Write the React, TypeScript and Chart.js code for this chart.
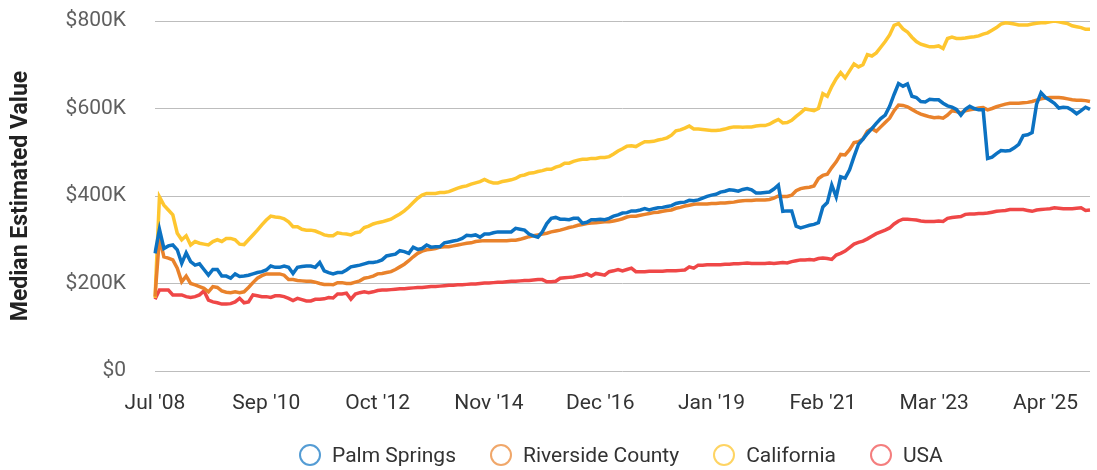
import React, { useEffect, useRef } from "react";
import { Chart, registerables } from "chart.js";

Chart.register(...registerables);

// Values in thousands of dollars, one point per period starting Jul '08
const seriesNames = ["Palm Springs", "Riverside County", "California", "USA"];
const seriesColors = ["#0c72c2", "#e9822b", "#fec62f", "#ef4747"];
const legendColors = ["rgba(12,114,194,0.7)", "rgba(233,130,43,0.7)", "rgba(254,198,47,0.75)", "rgba(239,71,71,0.7)"];

const palmSprings = [
  269, 324, 280, 286, 288, 277, 246, 270, 250, 242, 245, 232, 219, 232, 232, 217, 217, 212, 222, 216,
  217, 219, 222, 225, 227, 231, 240, 237, 237, 240, 237, 223, 237, 239, 240, 240, 237, 248, 229, 225,
  222, 225, 225, 231, 238, 240, 242, 245, 248, 248, 250, 254, 263, 265, 267, 275, 273, 269, 283, 278,
  280, 288, 283, 284, 284, 293, 295, 297, 299, 303, 310, 309, 311, 306, 313, 313, 316, 318, 318, 318,
  318, 326, 324, 322, 313, 309, 306, 318, 337, 349, 351, 347, 347, 346, 349, 349, 338, 340, 346, 346,
  347, 346, 349, 354, 357, 361, 362, 366, 366, 368, 371, 368, 371, 373, 374, 376, 378, 383, 385, 386,
  390, 389, 391, 395, 399, 402, 404, 409, 411, 414, 413, 411, 415, 417, 414, 407, 407, 408, 409, 416,
  425, 365, 366, 366, 331, 327, 330, 333, 335, 339, 375, 385, 425, 398, 444, 441, 460, 490, 518, 530,
  543, 554, 566, 577, 585, 605, 632, 657, 651, 656, 628, 625, 616, 615, 621, 620, 620, 612, 606, 603,
  598, 585, 598, 605, 600, 597, 597, 486, 489, 497, 504, 503, 504, 510, 518, 538, 540, 545, 610, 636,
  625, 619, 612, 601, 603, 602, 596, 588, 595, 603, 598,
];

const riversideCounty = [
  170, 305, 261, 258, 254, 235, 204, 217, 200, 197, 193, 189, 181, 193, 191, 183, 180, 179, 181, 179,
  181, 191, 202, 212, 218, 222, 222, 222, 222, 219, 209, 209, 207, 206, 205, 205, 203, 200, 198, 198,
  197, 202, 202, 200, 200, 203, 206, 212, 214, 217, 222, 223, 225, 227, 232, 238, 244, 252, 261, 269,
  274, 277, 278, 280, 283, 284, 284, 286, 288, 290, 292, 293, 296, 297, 298, 298, 298, 298, 298, 298,
  299, 299, 301, 304, 307, 309, 311, 313, 315, 318, 320, 322, 325, 328, 330, 333, 335, 337, 338, 339,
  340, 341, 341, 343, 345, 348, 352, 354, 354, 356, 358, 360, 362, 363, 365, 367, 368, 372, 374, 377,
  379, 381, 382, 382, 382, 383, 383, 384, 384, 385, 386, 388, 389, 390, 390, 391, 391, 391, 392, 395,
  400, 399, 399, 402, 412, 417, 419, 420, 423, 440, 447, 450, 465, 478, 495, 494, 506, 522, 524, 530,
  548, 554, 548, 558, 568, 578, 595, 608, 607, 604, 598, 592, 587, 584, 581, 579, 580, 578, 585, 595,
  593, 590, 595, 597, 599, 601, 602, 597, 600, 604, 607, 610, 612, 612, 612, 613, 614, 616, 619, 622,
  624, 625, 625, 625, 624, 622, 620, 619, 619, 618, 616,
];

const california = [
  167, 398, 379, 368, 357, 315, 300, 309, 288, 296, 292, 290, 288, 296, 300, 296, 303, 303, 300, 290,
  289, 300, 311, 322, 334, 345, 354, 352, 351, 348, 341, 330, 330, 324, 322, 322, 320, 316, 311, 309,
  309, 316, 314, 313, 311, 316, 318, 328, 331, 336, 339, 341, 344, 347, 353, 359, 366, 375, 385, 395,
  402, 406, 406, 406, 408, 408, 410, 414, 418, 421, 423, 427, 430, 433, 438, 433, 430, 430, 433, 435,
  437, 440, 446, 448, 452, 453, 456, 458, 461, 461, 466, 469, 475, 475, 479, 482, 484, 484, 486, 486,
  488, 488, 490, 496, 503, 508, 514, 515, 513, 519, 524, 524, 525, 528, 530, 533, 539, 549, 551, 555,
  560, 553, 553, 552, 551, 550, 550, 551, 553, 556, 558, 558, 557, 558, 558, 560, 561, 561, 564, 570,
  575, 567, 568, 573, 582, 590, 599, 597, 595, 600, 634, 628, 650, 668, 682, 670, 686, 702, 695, 700,
  723, 720, 727, 740, 753, 768, 790, 794, 782, 775, 763, 753, 747, 744, 741, 741, 743, 737, 760, 763,
  760, 760, 761, 763, 764, 766, 770, 773, 779, 785, 793, 796, 795, 793, 791, 791, 791, 793, 795, 796,
  796, 798, 800, 798, 796, 794, 789, 787, 785, 781, 781,
];

const usa = [
  164, 185, 185, 185, 174, 174, 174, 170, 168, 170, 174, 183, 162, 158, 156, 153, 153, 154, 158, 166,
  156, 158, 174, 172, 170, 170, 168, 172, 172, 170, 166, 161, 166, 163, 160, 160, 164, 164, 165, 168,
  167, 176, 176, 178, 164, 176, 179, 181, 179, 181, 184, 185, 185, 186, 187, 188, 188, 189, 190, 191,
  191, 192, 193, 193, 194, 195, 196, 196, 197, 197, 198, 199, 199, 200, 201, 201, 202, 203, 203, 204,
  205, 205, 206, 207, 207, 208, 209, 209, 204, 204, 205, 212, 213, 214, 215, 217, 219, 222, 217, 223,
  221, 219, 227, 229, 232, 229, 232, 235, 227, 227, 227, 228, 228, 228, 228, 229, 229, 229, 230, 231,
  238, 235, 242, 242, 243, 243, 243, 243, 244, 244, 245, 245, 246, 247, 246, 246, 246, 246, 247, 246,
  247, 248, 247, 250, 252, 254, 254, 255, 254, 257, 258, 257, 255, 265, 269, 274, 282, 290, 294, 297,
  302, 308, 314, 318, 322, 327, 336, 343, 347, 347, 346, 345, 343, 342, 342, 342, 343, 342, 349, 351,
  352, 353, 358, 359, 359, 360, 360, 361, 363, 365, 366, 367, 369, 369, 369, 369, 367, 365, 368, 369,
  370, 371, 373, 372, 371, 371, 371, 372, 373, 367, 368,
];

const monthNames = ["Jan", "Feb", "Mar", "Apr", "May", "Jun", "Jul", "Aug", "Sep", "Oct", "Nov", "Dec"];
const firstLabel = "Jul '08";
const secondYear = 2008;
const secondMonthIndex = 8; // Sep '08
const xTickStep = 25;
const yMax = 800;
const yStep = 200;

function buildLabels(count: number): string[] {
  const out: string[] = [firstLabel];
  for (let i = 1; i < count; i++) {
    const m = secondMonthIndex + (i - 1);
    const year = secondYear + Math.floor(m / 12);
    out.push(`${monthNames[m % 12]} '${String(year % 100).padStart(2, "0")}`);
  }
  return out;
}

const labels = buildLabels(palmSprings.length);
const seriesData = [palmSprings, riversideCounty, california, usa];

const FONT = "Roboto, 'Noto Sans', sans-serif";

export default function App() {
  const canvasRef = useRef<HTMLCanvasElement | null>(null);

  useEffect(() => {
    document.body.style.margin = "0";
    const canvas = canvasRef.current;
    if (!canvas) return;
    const chart = new Chart(canvas, {
      type: "line",
      data: {
        labels,
        datasets: seriesNames.map((name, i) => ({
          label: name,
          data: seriesData[i],
          borderColor: seriesColors[i],
          backgroundColor: seriesColors[i],
          borderWidth: 3.5,
          pointRadius: 0,
          tension: 0,
          fill: false,
        })),
      },
      options: {
        animation: false,
        responsive: false,
        layout: { padding: { top: 21, right: 7, bottom: 49, left: 0 } },
        plugins: {
          legend: { display: false },
          tooltip: { enabled: false },
        },
        scales: {
          x: {
            offset: false,
            grid: { display: false, drawTicks: false },
            border: { display: false },
            ticks: {
              autoSkip: false,
              maxRotation: 0,
              minRotation: 0,
              padding: 20,
              color: "#333333",
              font: { family: FONT, size: 21 },
              callback: function (this: any, value: any, index: number) {
                return index % xTickStep === 0 ? this.getLabelForValue(value) : "";
              },
            },
            afterFit: (scale: any) => {
              scale.height = 50;
              scale.paddingLeft = 0;
              scale.paddingRight = 0;
            },
          },
          y: {
            min: 0,
            max: yMax,
            grid: { color: "#bdbdbd", lineWidth: 1, drawTicks: false },
            border: { display: false },
            ticks: {
              stepSize: yStep,
              padding: 29,
              color: "#5f5f5f",
              font: { family: FONT, size: 21 },
              callback: (v: any) => (Number(v) === 0 ? "$0" : `$${v}K`),
            },
            title: {
              display: true,
              text: "Median Estimated Value",
              color: "#222222",
              font: { family: FONT, size: 23, weight: "bold" },
              padding: { top: 7, bottom: 20 },
            },
            afterFit: (scale: any) => {
              scale.width = 155;
              scale.paddingTop = 0;
              scale.paddingBottom = 0;
            },
          },
        },
      },
    });
    return () => chart.destroy();
  }, []);

  return (
    <div style={{ position: "relative", width: 1097, height: 470, background: "#fff" }}>
      <canvas ref={canvasRef} width={1097} height={470} style={{ display: "block" }} />
      <div
        style={{
          position: "absolute",
          left: 299,
          top: 444,
          height: 22,
          display: "flex",
          alignItems: "center",
          fontFamily: FONT,
          fontSize: 21,
          color: "#333333",
          whiteSpace: "nowrap",
        }}
      >
        {seriesNames.map((name, i) => (
          <div key={name} style={{ display: "flex", alignItems: "center", marginRight: i < seriesNames.length - 1 ? 34 : 0 }}>
            <span
              style={{
                display: "inline-block",
                boxSizing: "border-box",
                width: 22,
                height: 22,
                borderRadius: "50%",
                border: `2px solid ${legendColors[i]}`,
                marginRight: 11,
              }}
            />
            <span>{name}</span>
          </div>
        ))}
      </div>
    </div>
  );
}
